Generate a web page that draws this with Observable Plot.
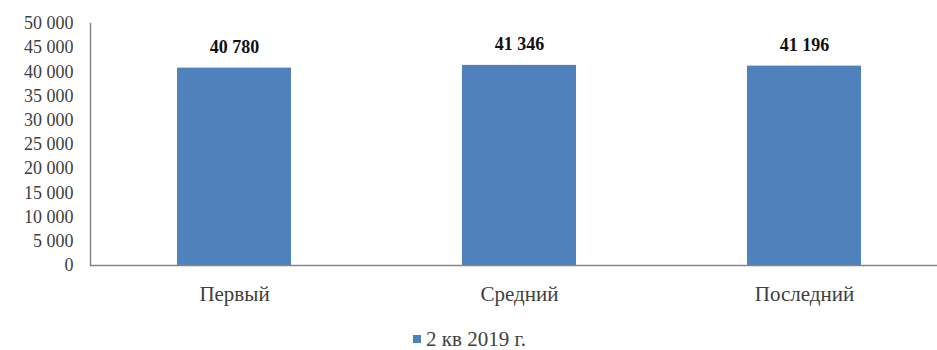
<!DOCTYPE html>
<html>
<head>
<meta charset="utf-8">
<script src="https://cdn.jsdelivr.net/npm/d3@7"></script>
<script src="https://cdn.jsdelivr.net/npm/@observablehq/plot@0.6"></script>
<style>
  body { margin: 0; background: #fff; font-family: 'Liberation Serif', serif; }
  #chart { width: 937px; }
  .legend { display: flex; justify-content: center; align-items: center; margin-top: 9px; font-size: 21px; color: #404040; padding-left: 2px; line-height: 24px; }
  .legend .sw { width: 8px; height: 8px; background: #4f81bd; margin-right: 5px; }
</style>
</head>
<body>
<div id="chart"></div>
<script>
const categories = ["Первый", "Средний", "Последний"];
const values = [40780, 41346, 41196];
const yTicks = [0, 5000, 10000, 15000, 20000, 25000, 30000, 35000, 40000, 45000, 50000];
const seriesName = "2 кв 2019 г.";

const data = categories.map((c, i) => ({category: c, value: values[i]}));
const fmt = v => d3.format(",")(v).replace(/,/g, " ");

const plot = Plot.plot({
  width: 937,
  height: 318,
  marginTop: 23,
  marginLeft: 90,
  marginRight: 0,
  marginBottom: 53,
  style: {fontFamily: "'Liberation Serif', serif", fontSize: "16px", color: "#404040", background: "#fff"},
  x: {domain: categories, range: [91, 947], paddingInner: 0.6, paddingOuter: 0.3, label: null},
  y: {domain: [0, 50000], label: null},
  marks: [
    Plot.barY(data, {x: "category", y: "value", fill: "#4f81bd"}),
    Plot.frame({anchor: "left", stroke: "#868686", strokeWidth: 1.5}),
    Plot.ruleY([0], {stroke: "#868686", strokeWidth: 1.5}),
    Plot.axisY({ticks: yTicks, tickFormat: fmt, tickSize: 0, tickPadding: 17, fontSize: 18, fill: "#404040"}),
    Plot.axisX({tickSize: 0, tickPadding: 21, fontSize: 21, fill: "#404040"}),
    Plot.text(data, {x: "category", y: "value", text: d => fmt(d.value), dy: -21, fontWeight: "bold", fontSize: 18, fill: "#111"})
  ]
});
document.getElementById("chart").appendChild(plot);
const lg = document.createElement("div");
lg.className = "legend";
lg.innerHTML = `<span class="sw"></span><span>${seriesName}</span>`;
document.getElementById("chart").appendChild(lg);
</script>
</body>
</html>
